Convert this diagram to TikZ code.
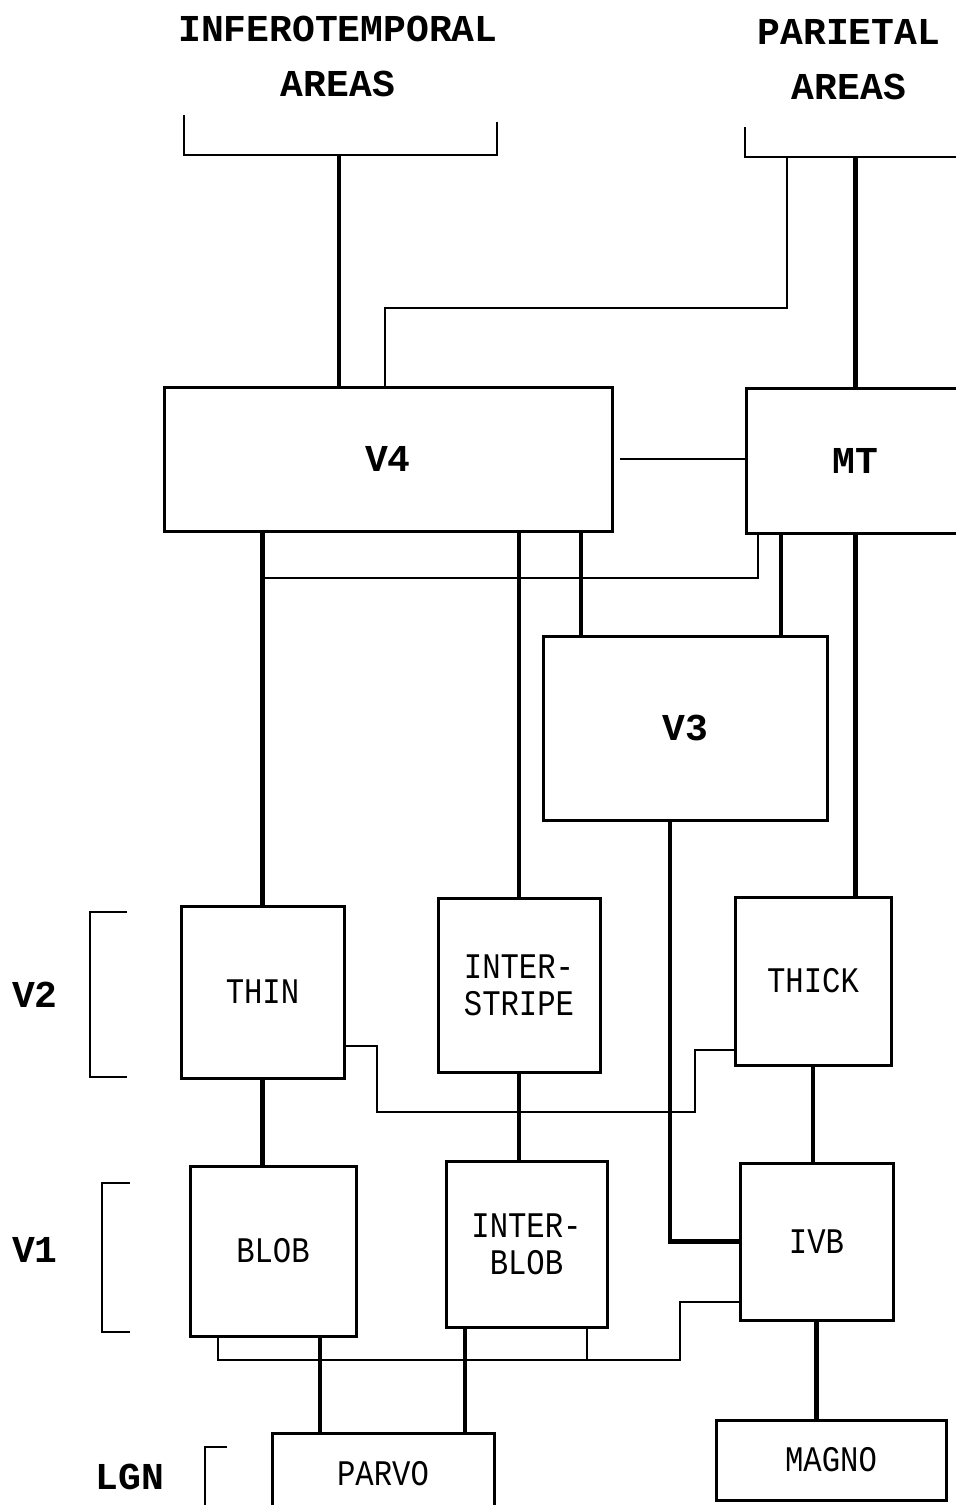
\documentclass[tikz,border=0pt]{standalone}
\usepackage{fontspec}
\newfontfamily\hdrfont{Liberation Mono}
\newfontfamily\boxfont[FakeStretch=0.85]{Liberation Mono}
\usetikzlibrary{calc}
\tikzset{area/.style={draw,line width=1.5pt,inner sep=0pt,outer sep=0pt,align=center,font=\boxfont\fontsize{18}{18.5}\selectfont},
	hdr/.style={align=center,font=\hdrfont\bfseries\fontsize{19}{27.5}\selectfont},
	region/.style={area,hdr},
	fibre/.style={line width=2.4pt},
	link/.style={line width=1.2pt}}
\begin{document}
\begin{tikzpicture}[x=0.5pt,y=-0.5pt,line join=miter]
	\useasboundingbox (0,0) rectangle (955,1505);
	% higher areas
	\node[hdr] (it) at (338,56) {INFEROTEMPORAL\\AREAS};
	\node[hdr] (pa) at (849,60) {PARIETAL\\AREAS};
	\coordinate (itstem) at (339,155);
	\coordinate (pastem) at (787,157);
	\draw[link] (184,115) |- (497,155) -- (497,122);
	\draw[link] (745,127) |- (965,157);
	% boxes
	\node[region,minimum width=224pt,minimum height=72pt] (v4) at (388,459) {V4};
	\node[region,minimum width=109.5pt,minimum height=72.5pt] (mt) at (855.5,460.5) {MT};
	\node[region,minimum width=142pt,minimum height=92pt] (v3) at (685,728) {V3};
	\node[area,minimum width=81.5pt,minimum height=86pt] (thin) at (262.5,992) {THIN};
	\node[area,minimum width=81pt,minimum height=87pt] (inter) at (519,985) {INTER-\\STRIPE};
	\node[area,minimum width=78pt,minimum height=84pt] (thick) at (813,981) {THICK};
	\node[area,minimum width=83pt,minimum height=85pt] (blob) at (273,1251) {BLOB};
	\node[area,minimum width=80.5pt,minimum height=83pt] (interblob) at (526.5,1244) {INTER-\\BLOB};
	\node[area,minimum width=76.5pt,minimum height=78.5pt] (ivb) at (816.5,1241.5) {IVB};
	\node[area,minimum width=111pt,minimum height=41pt] (parvo) at (383,1474) {PARVO};
	\node[area,minimum width=115pt,minimum height=40pt] (magno) at (831,1460) {MAGNO};
	% layer labels
	\node[hdr] (v2lbl) at (35,995) {V2};
	\node[hdr] (v1lbl) at (35,1250) {V1};
	\node[hdr] (lgnlbl) at (130,1477) {LGN};
	\draw[link] (127,912) -| (90,1077) -- (127,1077);
	\draw[link] (130,1183) -| (102,1332) -- (130,1332);
	\draw[link] (227,1447) -| (205,1510);
	% connections
	\coordinate (cross) at (0,578);
	\coordinate (bus) at (0,1360);
	\coordinate (v4v3) at ($(v3.north west)+(38,0)$);
	\coordinate (mtv3) at ($(v3.north west)+(238,0)$);
	\coordinate (blobpar) at ($(blob.south east)+(-36,0)$);
	\coordinate (ibpar) at ($(interblob.south west)+(19,0)$);
	\coordinate (ibbus) at ($(interblob.south east)+(-20,0)$);
	\draw[fibre] (itstem) -- (itstem |- v4.north);
	\draw[fibre] (mt.north) -- (mt.north |- pastem);
	\draw[link] (pastem) -- ++(0,151) -| ($(v4.north west)+(221,0)$);
	\draw[link,shorten <=4pt] (v4.east) -- (v4.east -| mt.west);
	\draw[fibre] (thin.north) -- (thin.north |- v4.south);
	\draw[fibre] (inter.north) -- (inter.north |- v4.south);
	\draw[fibre] (v4v3) -- (v4v3 |- v4.south);
	\draw[link] ($(mt.south west)+(12,0)$) |- (thin.north |- cross);
	\draw[fibre] (mtv3) -- (mtv3 |- mt.south);
	\draw[fibre] (mt.south) -- (mt.south |- thick.north);
	\draw[fibre] ($(v3.south)+(-15,0)$) |- (ivb.west);
	\draw[link] ($(thin.south east)+(0,-32)$) -| (377,1112) -| (695,1050) -- ($(thick.south west)+(0,-15)$);
	\draw[fibre] (thin.south) -- (thin.south |- blob.north);
	\draw[fibre] (inter.south) -- (inter.south |- interblob.north);
	\draw[fibre] (thick.south) -- (thick.south |- ivb.north);
	\draw[fibre] (blobpar) -- (blobpar |- parvo.north);
	\draw[fibre] (ibpar) -- (ibpar |- parvo.north);
	\draw[fibre] (ivb.south) -- (ivb.south |- magno.north);
	\draw[link] ($(blob.south west)+(28,0)$) |- (680,1360) |- ($(ivb.south west)+(0,-18)$);
	\draw[link] (ibbus) -- (ibbus |- bus);
\end{tikzpicture}
\end{document}
